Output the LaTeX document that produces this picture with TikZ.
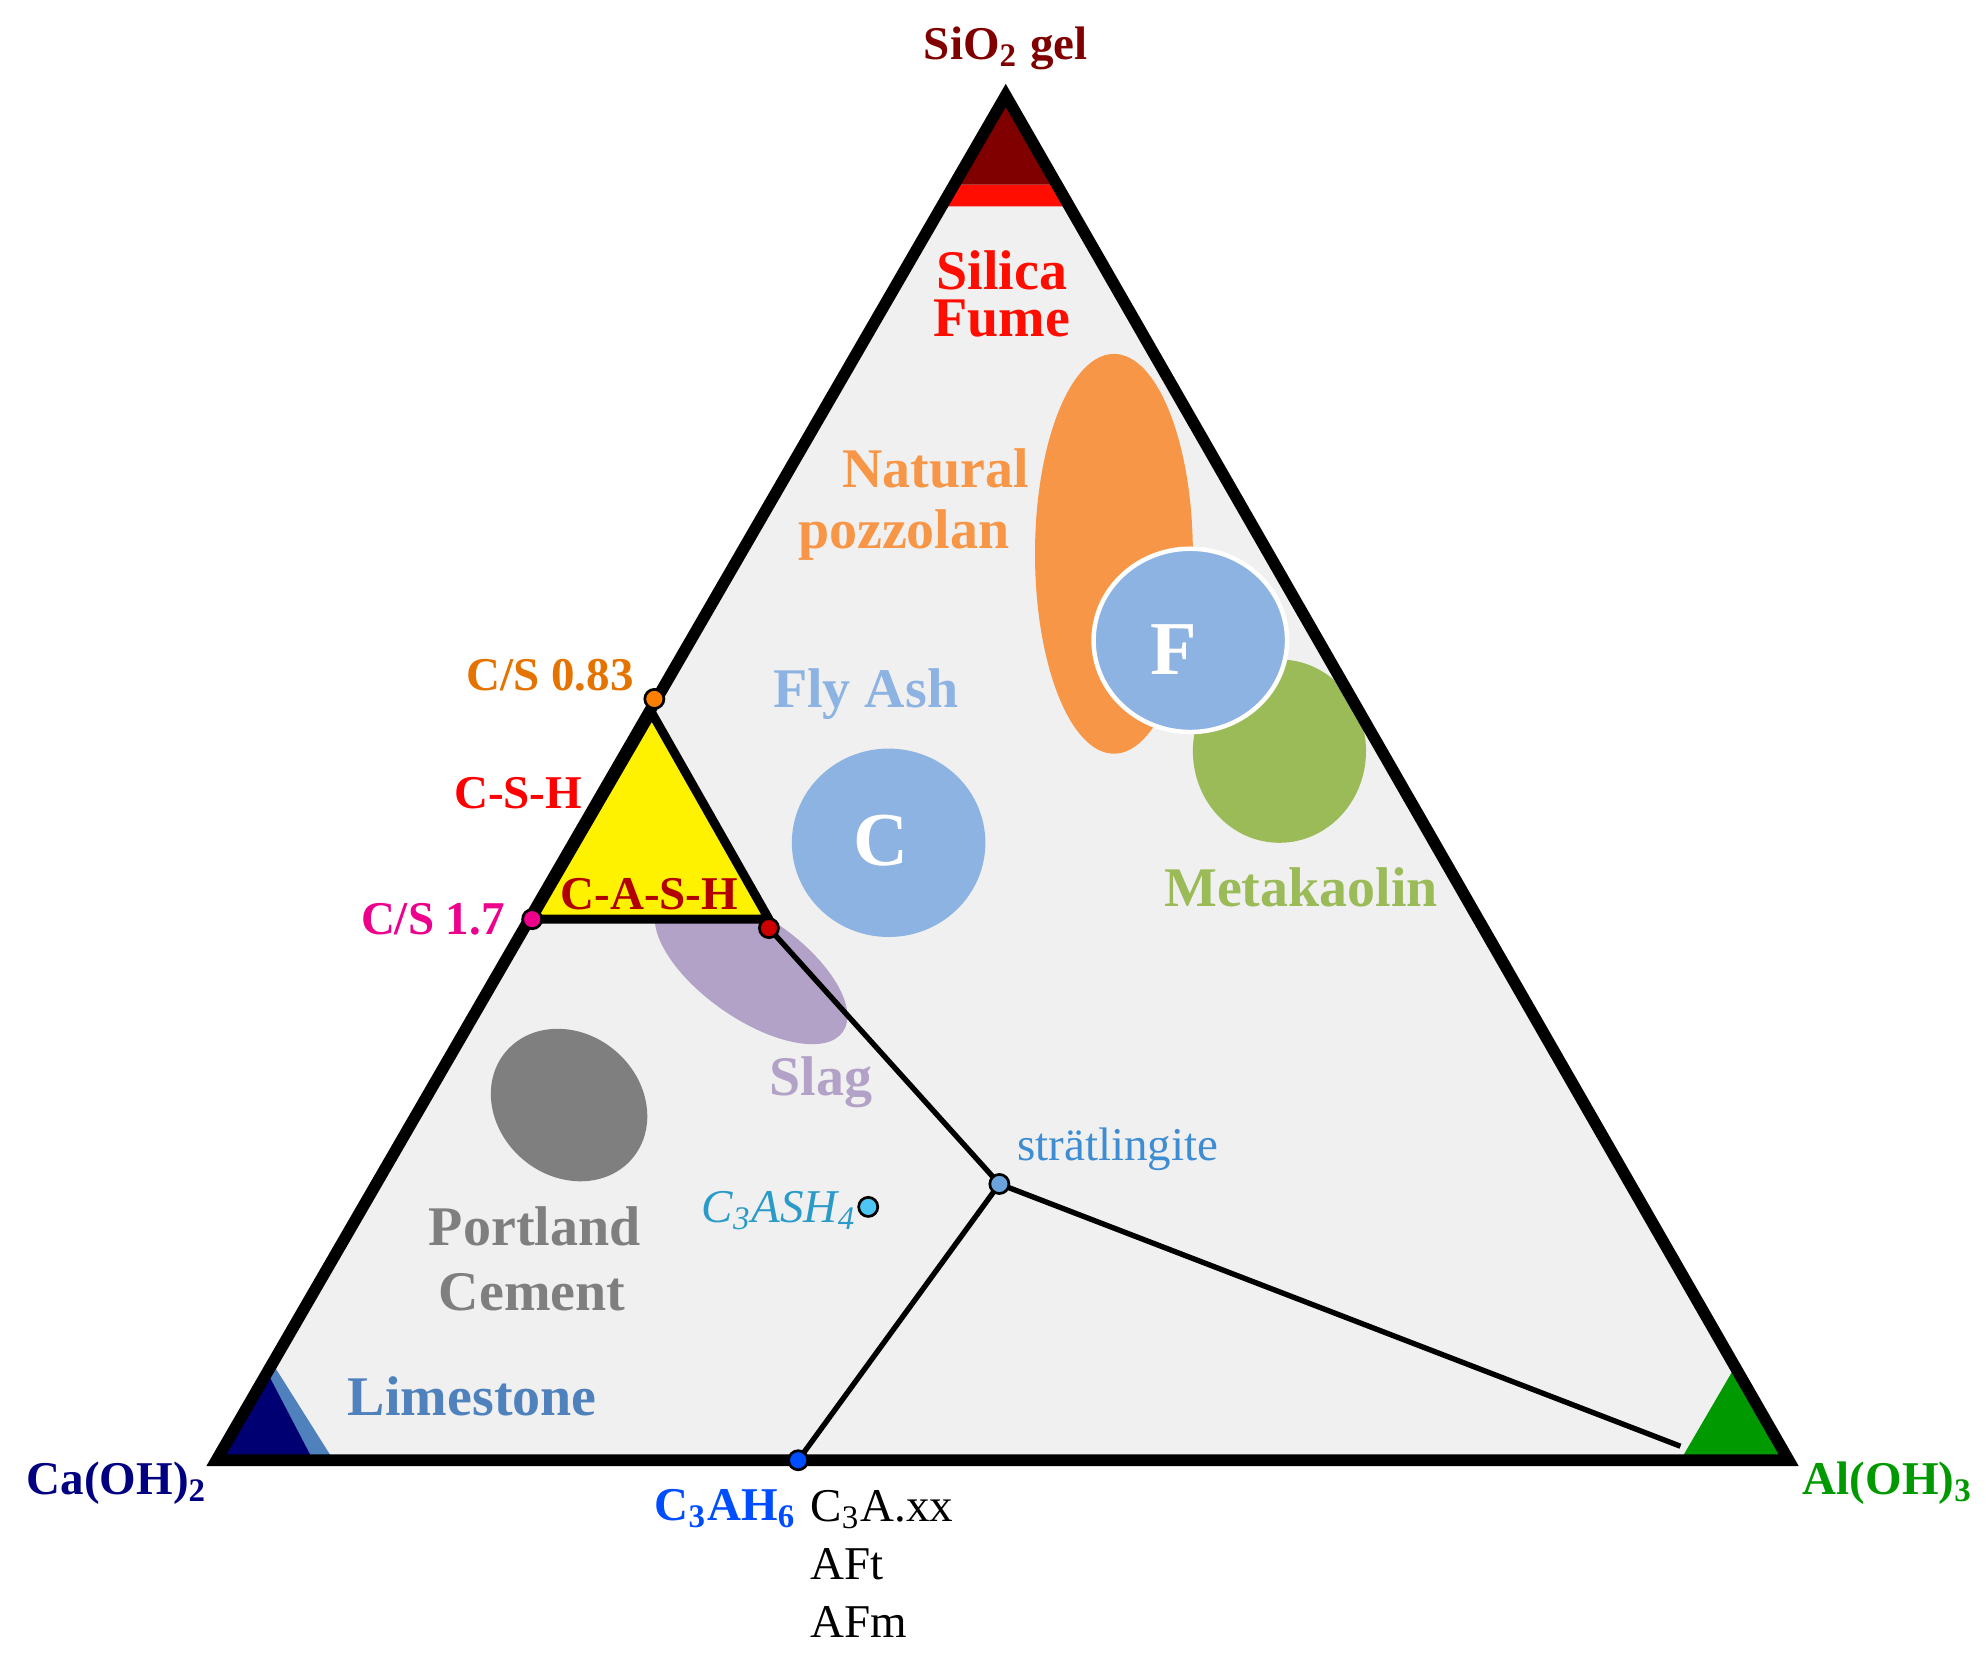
\documentclass[tikz,border=0pt]{standalone}
\usepackage{fontspec}
\setmainfont{Liberation Serif}
\begin{document}
\begin{tikzpicture}[x=0.01cm,y=-0.01cm,
 lab/.style={font=\bfseries\fontsize{10.5}{12}\selectfont,inner sep=0pt},
 big/.style={font=\bfseries\fontsize{12.5}{12}\selectfont,align=center,inner sep=0pt},
 pt/.style={circle,draw=black,line width=0.6pt,minimum size=0.15cm,inner sep=0pt}]
\useasboundingbox (0,0) rectangle (1560,1302);
\definecolor{bg}{HTML}{F0F0F0}
\definecolor{orng}{HTML}{F79646}
\definecolor{flyb}{HTML}{8DB3E2}
\definecolor{grn}{HTML}{9BBB59}
\definecolor{purp}{HTML}{B3A2C7}
\definecolor{gry}{HTML}{7F7F7F}
\definecolor{lime}{HTML}{4F81BD}
\coordinate (A) at (790,75);
\coordinate (B) at (170,1147);
\coordinate (Cc) at (1405,1147);
\fill[bg] (A)--(B)--(Cc)--cycle;
\fill[red!90!orange] (746,145)--(834,145)--(844,162)--(736,162)--cycle;
\fill[red!50!black] (A)--(751,145)--(829,145)--cycle;
\fill[lime] (210,1078)--(216,1074)--(262,1147)--(246,1147)--cycle;
\fill[blue!45!black] (B)--(210,1078)--(246,1147)--cycle;
\fill[green!60!black] (1320,1147)--(1362,1075)--(1405,1147)--cycle;
\fill[orng] (875,435) ellipse [x radius=62,y radius=157];
\fill[grn] (1005,590) ellipse [x radius=68,y radius=72];
\fill[flyb,draw=white,line width=1pt] (935,503) ellipse [x radius=76,y radius=72];
\fill[flyb] (698,662) ellipse [x radius=76,y radius=74];
\fill[purp,rotate around={-35:(590,760)}] (590,760) ellipse [x radius=88,y radius=40];
\fill[gry,rotate around={-40:(447,868)}] (447,868) ellipse [x radius=65,y radius=56];
\node[font=\bfseries\fontsize{17}{17}\selectfont,text=white] (F) at (922,510) {F};
\node[font=\bfseries\fontsize{17}{17}\selectfont,text=white] (Cl) at (692,660) {C};
\fill[yellow,draw=black,line width=2pt,line join=round] (512,560)--(418,722)--(604,722)--cycle;
\coordinate (rd) at (604,729);
\coordinate (st) at (785,930);
\coordinate (c3) at (627,1147);
\coordinate (al) at (1320,1136);
\draw[line width=1.2pt] (rd)--(st)--(al);
\draw[line width=1.2pt] (st)--(c3);
\draw[line width=2.6pt,line join=miter] (A)--(B)--(Cc)--cycle;
\node[pt,fill=orange] (p1) at (514,549) {};
\node[pt,fill=magenta] (p2) at (418,722) {};
\node[pt,fill=red!80!black] (p3) at (604,729) {};
\node[pt,fill=cyan!60!blue!60] (p4) at (785,930) {};
\node[pt,fill=blue!70!cyan] (p5) at (627,1147) {};
\node[pt,fill=cyan!70] (p6) at (682,948) {};
\node[lab,text=red!50!black] at (790,38) {SiO\textsubscript{2} gel};
\node[big,text=red!90!orange] at (787,212) {Silica};
\node[big,text=red!90!orange] at (787,250) {Fume};
\node[big,text=orng] at (735,368) {Natural};
\node[big,text=orng] at (710,420) {pozzolan};
\node[big,text=flyb] at (680,545) {Fly Ash};
\node[big,text=grn] at (1022,697) {Metakaolin};
\node[big,text=purp] at (645,850) {Slag};
\node[big,text=gry] at (420,963) {Portland};
\node[big,text=gry] at (418,1015) {Cement};
\node[big,text=lime] at (371,1097) {Limestone};
\node[lab,text=orange!90!black] at (432,530) {C/S 0.83};
\node[lab,text=red] at (407,623) {C-S-H};
\node[lab,text=magenta] at (340,722) {C/S 1.7};
\node[lab,text=red!70!black] at (510,702) {C-A-S-H};
\node[lab,text=cyan!60!blue!80,font=\fontsize{10.5}{12}\selectfont] at (878,903) {strätlingite};
\node[text=cyan!80!black,font=\itshape\fontsize{10.5}{12}\selectfont,inner sep=0pt] at (612,951) {C\textsubscript{3}ASH\textsubscript{4}};
\node[lab,text=blue!50!black] at (92,1165) {Ca(OH)\textsubscript{2}};
\node[lab,text=green!60!black] at (1483,1165) {Al(OH)\textsubscript{3}};
\node[lab,text=blue!70!cyan] at (570,1185) {C\textsubscript{3}AH\textsubscript{6}};
\node[inner sep=0pt,font=\fontsize{10.5}{13}\selectfont,align=left,anchor=north west] at (636,1170) {C\textsubscript{3}A.xx\\AFt\\AFm};
\end{tikzpicture}
\end{document}
